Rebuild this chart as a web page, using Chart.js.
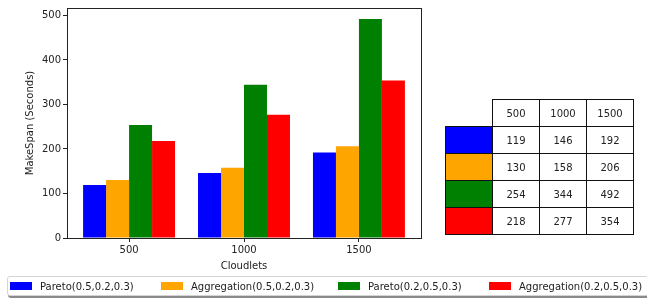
<!DOCTYPE html>
<html>
<head>
<meta charset="utf-8">
<script src="https://cdn.jsdelivr.net/npm/chart.js@4/dist/chart.umd.min.js"></script>
<style>
  html, body { margin: 0; padding: 0; background: #fff; }
  #wrap { position: relative; width: 647px; height: 300px; overflow: hidden; font-family: "DejaVu Sans", sans-serif; }
  #c { position: absolute; left: 0; top: 0; }
  #tbl { position: absolute; left: 445px; top: 99px; border-collapse: collapse; font-size: 10px; color: #222; }
  #tbl td { border: 1px solid #111; height: 27px; padding: 0; text-align: center; box-sizing: border-box; }
  #tbl td.num { width: 47px; }
  #tbl td.sw { width: 47px; }
  #tbl td.empty { border: none; }
  #legend { position: absolute; left: 7px; top: 276px; width: 642px; height: 20px; box-sizing: border-box;
            border: 1px solid #d4d4d4; border-radius: 3px; box-shadow: 1px 2px 0 #8a8a8a; background: #fff; }
  .li { position: absolute; top: 0; height: 18px; display: flex; align-items: center; font-size: 10px; color: #222; white-space: nowrap; }
  .li .p { width: 22px; height: 8px; margin-right: 8px; }
</style>
</head>
<body>
<div id="wrap">
  <canvas id="c" width="647" height="300"></canvas>
  <table id="tbl"></table>
  <div id="legend"></div>
</div>
<script>
const categories = ['500', '1000', '1500'];
const seriesLabels = ['Pareto(0.5,0.2,0.3)', 'Aggregation(0.5,0.2,0.3)', 'Pareto(0.2,0.5,0.3)', 'Aggregation(0.2,0.5,0.3)'];
const pareto_05_02_03 = [119, 146, 192];
const aggregation_05_02_03 = [130, 158, 206];
const pareto_02_05_03 = [254, 344, 492];
const aggregation_02_05_03 = [218, 277, 354];
const yTickValues = [0, 100, 200, 300, 400, 500];
const seriesColors = ['#0000ff', '#ffa500', '#008000', '#ff0000'];
const seriesValues = [pareto_05_02_03, aggregation_05_02_03, pareto_02_05_03, aggregation_02_05_03];

const font = { family: 'DejaVu Sans', size: 10 };
const datasets = seriesValues.map((vals, s) => ({
  label: seriesLabels[s],
  data: vals.map((v, i) => ({ x: i, y: v })),
  backgroundColor: seriesColors[s],
  borderWidth: 0,
  categoryPercentage: 0.8,
  barPercentage: 1.0
}));

const frame = {
  id: 'frame',
  afterDraw(chart) {
    const { ctx, chartArea: a } = chart;
    ctx.save();
    ctx.strokeStyle = '#222';
    ctx.lineWidth = 1;
    ctx.strokeRect(Math.round(a.left) + 0.5, Math.round(a.top) + 0.5, Math.round(a.right - a.left), Math.round(a.bottom - a.top));
    ctx.restore();
  }
};

new Chart(document.getElementById('c'), {
  type: 'bar',
  data: { datasets },
  options: {
    responsive: false,
    animation: false,
    devicePixelRatio: 1,
    layout: { padding: { left: 0, right: 226, top: 7, bottom: 27 } },
    plugins: { legend: { display: false }, tooltip: { enabled: false } },
    scales: {
      x: {
        type: 'linear',
        min: -0.54, max: 2.54,
        offset: false,
        afterBuildTicks: (sc) => { sc.ticks = categories.map((c, i) => ({ value: i })); },
        afterFit: (sc) => { sc.height = 35; },
        ticks: { font, color: '#222', padding: 2, callback: (v) => categories[v] ?? '' , maxRotation: 0, autoSkip: false},
        grid: { display: true, offset: false, drawOnChartArea: false, drawTicks: true, tickLength: 4, color: '#222' },
        border: { display: true, color: '#222' },
        title: { display: true, text: 'Cloudlets', font, color: '#222', padding: { top: 2, bottom: 1 } }
      },
      y: {
        min: 0, max: 516.6,
        afterBuildTicks: (sc) => { sc.ticks = yTickValues.map(v => ({ value: v })); },
        afterFit: (sc) => { sc.width = 67; },
        ticks: { font, color: '#222', padding: 2 },
        grid: { display: true, offset: false, drawOnChartArea: false, drawTicks: true, tickLength: 4, color: '#222' },
        border: { display: true, color: '#222' },
        title: { display: true, text: 'MakeSpan (Seconds)', font, color: '#222', padding: { top: 24, bottom: 2 } }
      }
    }
  },
  plugins: [frame]
});

// table
const tbl = document.getElementById('tbl');
let hdr = '<tr><td class="empty"></td>' + categories.map(c => '<td class="num">' + c + '</td>').join('') + '</tr>';
let rows = seriesValues.map((vals, s) =>
  '<tr><td class="sw" style="background:' + seriesColors[s] + '"></td>' + vals.map(v => '<td class="num">' + v + '</td>').join('') + '</tr>'
).join('');
tbl.innerHTML = hdr + rows;

// legend
const legendX = [2, 153, 330, 481];
const lg = document.getElementById('legend');
lg.innerHTML = seriesLabels.map((l, s) =>
  '<div class="li" style="left:' + legendX[s] + 'px"><div class="p" style="background:' + seriesColors[s] + '"></div>' + l + '</div>'
).join('');
</script>
</body>
</html>
